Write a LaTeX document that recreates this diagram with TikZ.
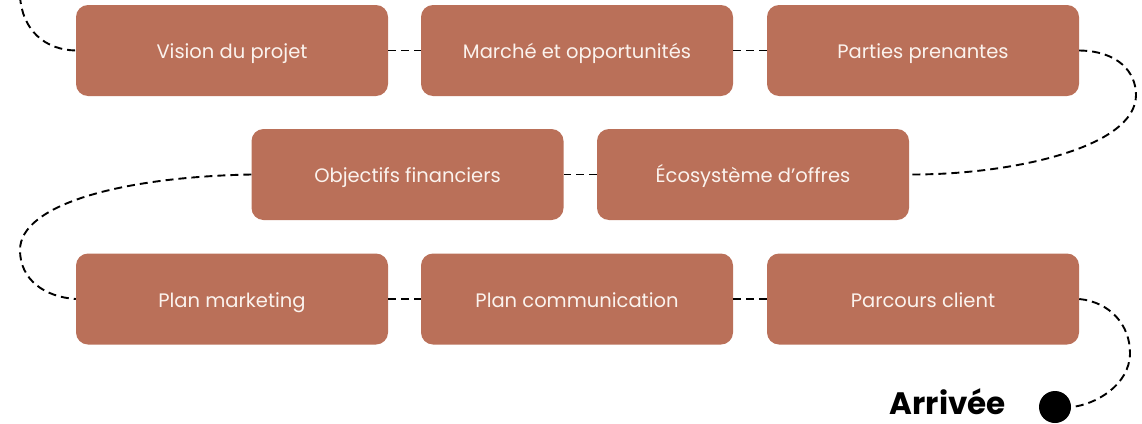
\documentclass[tikz,border=0pt]{standalone}
\usepackage{fontspec}
\setmainfont{Poppins}
\newfontfamily\arrfont{Poppins}
\definecolor{boxcol}{HTML}{BA7059}
\definecolor{txtcol}{HTML}{FBF3EE}
\begin{document}
\begin{tikzpicture}[x=1pt,y=-1pt,
  stepbox/.style={fill=boxcol, rounded corners=12pt, minimum width=312pt, minimum height=91pt, inner sep=0pt, text=txtcol, text height=16pt, text depth=0pt, font=\fontsize{19.5}{22}\selectfont},
  link/.style={draw=black, line width=1.9pt, dash pattern=on 8pt off 5pt}]
\useasboundingbox (0,0) rectangle (1142,423);
\node[stepbox] (b1) at (232,50.5) {Vision du projet};
\node[stepbox] (b2) at (577,50.5) {Marché et opportunités};
\node[stepbox] (b3) at (923,50.5) {Parties prenantes};
\node[stepbox] (b4) at (407.5,174.5) {Objectifs financiers};
\node[stepbox] (b5) at (753,174.5) {Écosystème d’offres};
\node[stepbox] (b6) at (232,299) {Plan marketing};
\node[stepbox] (b7) at (577,299) {Plan communication};
\node[stepbox] (b8) at (923,299) {Parcours client};
\node[circle, fill=black, minimum size=32pt, inner sep=0pt] (dot) at (1055,407) {};
\node[anchor=base east, inner sep=0pt, text depth=0pt, font=\arrfont\bfseries\fontsize{31}{33}\selectfont] (arr) at (1006,414.5) {Arrivée};
\coordinate (start) at (20,-4);
\draw[link] (start) .. controls (22,30) and (45,50) .. (b1.west);
\draw[link] (b1) -- (b2);
\draw[link] (b2) -- (b3);
\draw[link] (b3.east) .. controls (1118,51) and (1136,72) .. (1136,95) .. controls (1136,148) and (1010,175) .. (b5.east);
\draw[link] (b5) -- (b4);
\draw[link] (b4.west) .. controls (120,177) and (20,205) .. (20,250) .. controls (20,280) and (45,297) .. (b6.west);
\draw[link] (b6) -- (b7);
\draw[link] (b7) -- (b8);
\draw[link] (b8.east) .. controls (1110,302) and (1130,325) .. (1130,353) .. controls (1130,385) and (1095,405) .. (dot.east);
\end{tikzpicture}
\end{document}
